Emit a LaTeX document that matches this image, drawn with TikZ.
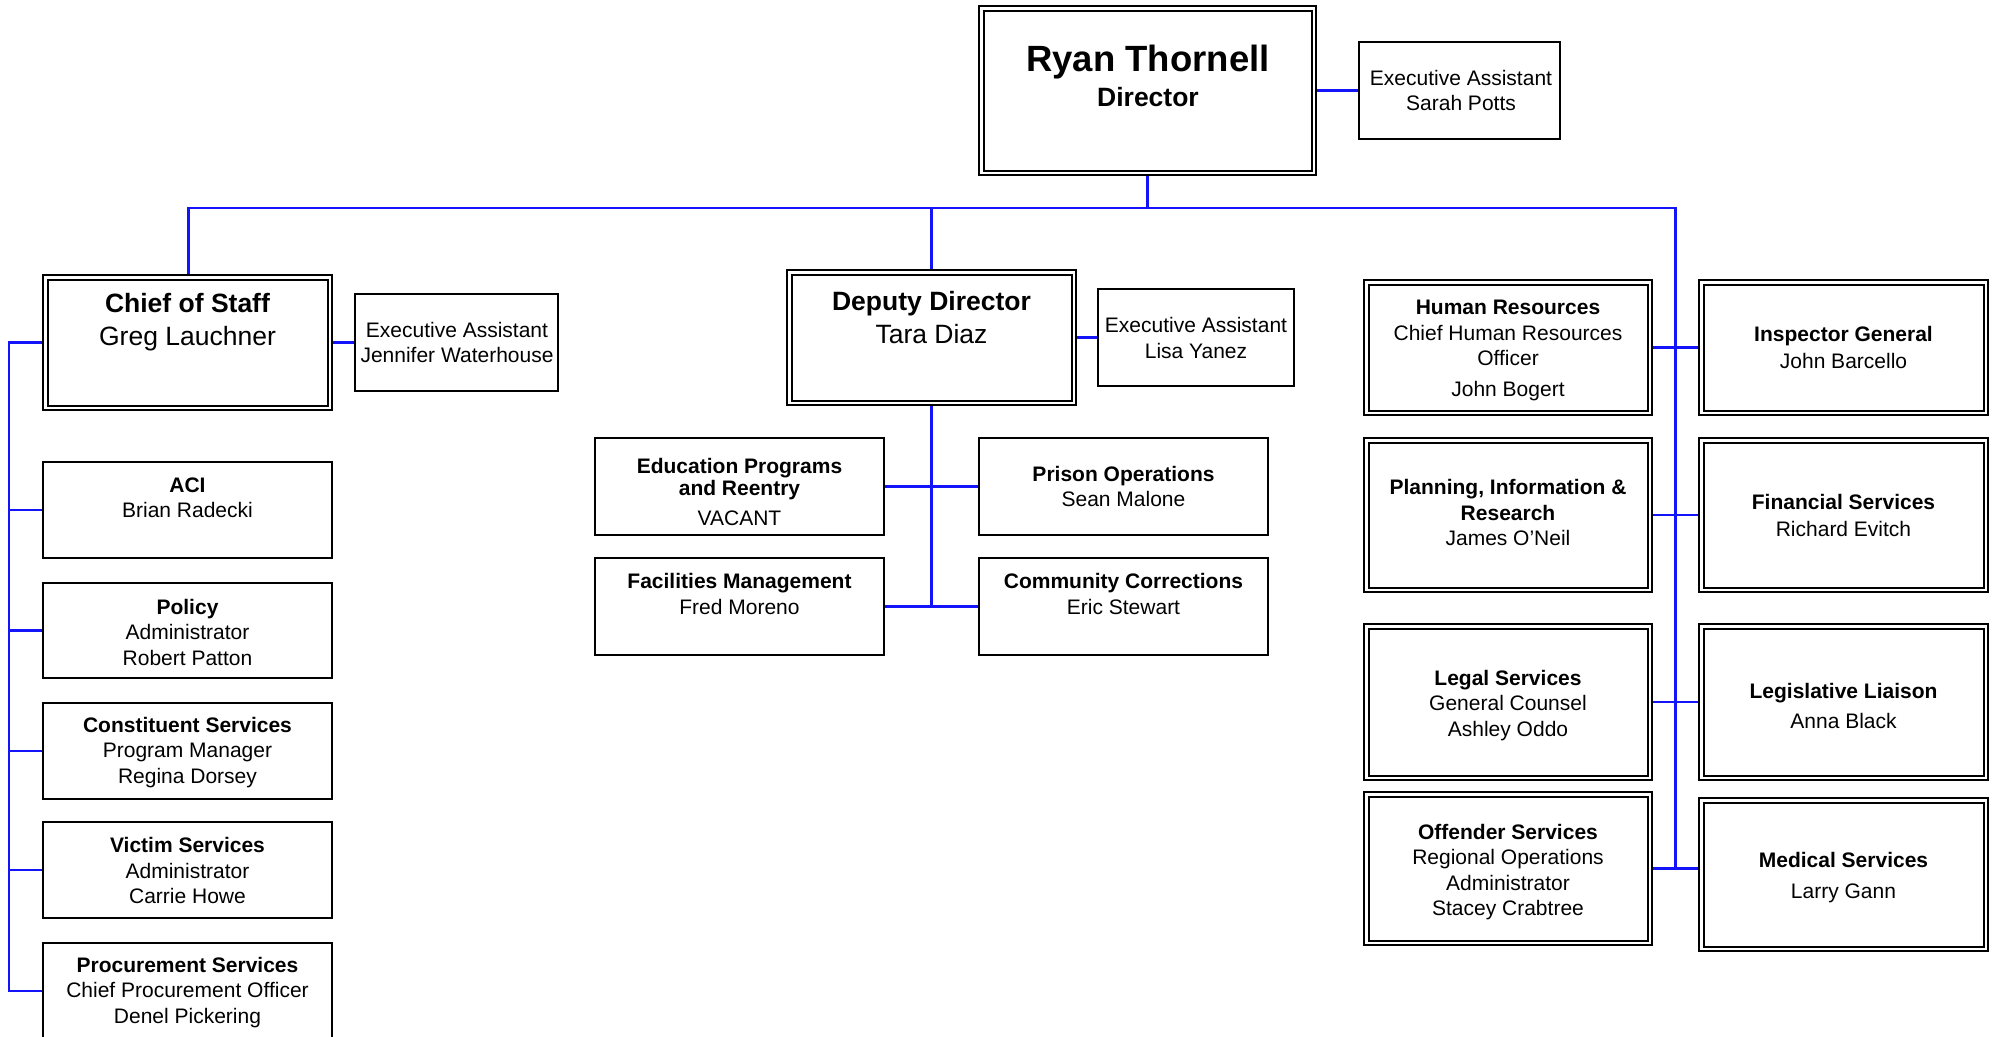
\documentclass[tikz,border=0pt]{standalone}
\usepackage{fontspec}
\setmainfont{Liberation Sans}
\pgfdeclarelayer{background}
\pgfsetlayers{background,main}
\definecolor{lineblue}{RGB}{20,20,250}
\begin{document}
\begin{tikzpicture}[x=1pt,y=-1pt,
  sbox/.style={draw=black, line width=2pt, fill=white, inner sep=0pt},
  dbox/.style={draw=black, line width=2pt, double=white, double distance=2.5pt, fill=white, inner sep=0pt},
  conn/.style={draw=lineblue, line width=2.5pt},
  tx/.style={font=\fontsize{21}{25.5}\selectfont, align=center, inner sep=0pt},
  txb/.style={font=\fontsize{26.5}{33}\selectfont, align=center, inner sep=0pt}]
\useasboundingbox (0,0) rectangle (1997,1036);

% top
\node[dbox, minimum width=332.5pt, minimum height=164.5pt] (dir) at (1147.5,90.5) {};
\node[anchor=base, inner sep=0pt, font=\fontsize{36.5}{40}\selectfont\bfseries] (tdir1) at (1148,71) {Ryan Thornell};
\node[anchor=base, inner sep=0pt, font=\fontsize{26.5}{30}\selectfont\bfseries] (tdir2) at (1148,106) {Director};
\node[sbox, minimum width=201pt, minimum height=97pt] (sarah) at (1459.5,90.5) {};
\node[tx] (tsarah) at (1461,90.5) {Executive Assistant\\Sarah Potts};

% chief of staff
\node[dbox, minimum width=284.5pt, minimum height=130.5pt] (cos) at (187.5,342.5) {};
\node[txb] (tcos) at (187.5,322.5) {\textbf{Chief of Staff}\\Greg Lauchner};
\node[sbox, minimum width=203pt, minimum height=97pt] (jen) at (456.5,342.5) {};
\node[tx] (tjen) at (457,342.5) {Executive Assistant\\Jennifer Waterhouse};

% deputy
\node[dbox, minimum width=284.5pt, minimum height=130.5pt] (dep) at (931.5,337.5) {};
\node[txb] (tdep) at (931.5,317.5) {\textbf{Deputy Director}\\Tara Diaz};
\node[sbox, minimum width=196pt, minimum height=97pt] (lisa) at (1196,337.5) {};
\node[tx] (tlisa) at (1196,338) {Executive Assistant\\Lisa Yanez};

\node[sbox, minimum width=289pt, minimum height=97pt] (edu) at (739.5,486.5) {};
\node[tx] (tedu) at (739.5,492) {\textbf{Education Programs}\\[-4pt]\textbf{and Reentry}\\[5pt]VACANT};
\node[sbox, minimum width=289pt, minimum height=97pt] (pri) at (1123.5,486.5) {};
\node[tx] (tpri) at (1123.5,486.5) {\textbf{Prison Operations}\\Sean Malone};
\node[sbox, minimum width=289pt, minimum height=97pt] (fac) at (739.5,606.5) {};
\node[tx] (tfac) at (739.5,594) {\textbf{Facilities Management}\\[1pt]Fred Moreno};
\node[sbox, minimum width=289pt, minimum height=97pt] (com) at (1123.5,606.5) {};
\node[tx] (tcom) at (1123.5,594) {\textbf{Community Corrections}\\[1pt]Eric Stewart};

% left column
\node[sbox, minimum width=289pt, minimum height=96pt] (aci) at (187.5,510) {};
\node[tx] (taci) at (187.5,498) {\textbf{ACI}\\[-1pt]Brian Radecki};
\node[sbox, minimum width=289pt, minimum height=95pt] (pol) at (187.5,630.5) {};
\node[tx] (tpol) at (187.5,632) {\textbf{Policy}\\Administrator\\Robert Patton};
\node[sbox, minimum width=289pt, minimum height=96pt] (con) at (187.5,751) {};
\node[tx] (tcon) at (187.5,752.5) {\textbf{Constituent Services}\\Program Manager\\Regina Dorsey};
\node[sbox, minimum width=289pt, minimum height=96pt] (vic) at (187.5,870) {};
\node[tx] (tvic) at (187.5,870.5) {\textbf{Victim Services}\\Administrator\\Carrie Howe};
\node[sbox, minimum width=289pt, minimum height=96pt] (pro) at (187.5,991) {};
\node[tx] (tpro) at (187.5,992.5) {\textbf{Procurement Services}\\Chief Procurement Officer\\Denel Pickering};

% right columns
\node[dbox, minimum width=283.5pt, minimum height=130.5pt] (hr) at (1508,347.5) {};
\node[tx] (thr) at (1508,350.5) {\textbf{Human Resources}\\Chief Human Resources\\Officer\\[5pt]John Bogert};
\node[dbox, minimum width=284.5pt, minimum height=130.5pt] (ig) at (1843.5,347.5) {};
\node[tx] (tig) at (1843.5,347.5) {\textbf{Inspector General}\\[1.5pt]John Barcello};
\node[dbox, minimum width=283.5pt, minimum height=149.5pt] (pla) at (1508,515) {};
\node[tx] (tpla) at (1508,512.5) {\textbf{Planning, Information \&}\\\textbf{Research}\\James O’Neil};
\node[dbox, minimum width=284.5pt, minimum height=149.5pt] (fin) at (1843.5,515) {};
\node[tx] (tfin) at (1843.5,515.5) {\textbf{Financial Services}\\[1.5pt]Richard Evitch};
\node[dbox, minimum width=283.5pt, minimum height=151.5pt] (leg) at (1508,702) {};
\node[tx] (tleg) at (1508,705.5) {\textbf{Legal Services}\\General Counsel\\Ashley Oddo};
\node[dbox, minimum width=284.5pt, minimum height=151.5pt] (lli) at (1843.5,702) {};
\node[tx] (tlli) at (1843.5,706) {\textbf{Legislative Liaison}\\[4.5pt]Anna Black};
\node[dbox, minimum width=283.5pt, minimum height=148.5pt] (off) at (1508,868.5) {};
\node[tx] (toff) at (1508,872) {\textbf{Offender Services}\\Regional Operations\\Administrator\\Stacey Crabtree};
\node[dbox, minimum width=284.5pt, minimum height=148.5pt] (med) at (1843.5,874.5) {};
\node[tx] (tmed) at (1843.5,877.5) {\textbf{Medical Services}\\[5pt]Larry Gann};

\begin{pgfonlayer}{background}
\fill[white] (0,0) rectangle (1997,1036);
\coordinate (busL) at (188.5,208);
\coordinate (busR) at (1675.5,208);
\coordinate (lt) at (9,342.5);
\draw[conn] (cos.north -| busL) -- (busL) -- (busR) -- (busR |- off.east);
\draw[conn] (dir.south) -- (dir.south |- busL);
\draw[conn] (dep.north) -- (dep.north |- busL);
\draw[conn] (dir.east) -- (sarah.west);
\draw[conn] (cos.east) -- (jen.west);
\draw[conn] (dep.east) -- (lisa.west);
% left trunk
\draw[conn] (cos.west) -- (lt) -- (lt |- pro.west) -- (pro.west);
\draw[conn] (lt |- aci.west) -- (aci.west);
\draw[conn] (lt |- pol.west) -- (pol.west);
\draw[conn] (lt |- con.west) -- (con.west);
\draw[conn] (lt |- vic.west) -- (vic.west);
% deputy branch
\draw[conn] (dep.south) -- (dep.south |- fac.east);
\draw[conn] (edu.east) -- (pri.west);
\draw[conn] (fac.east) -- (com.west);
% right branch
\draw[conn] (hr.east) -- (ig.west);
\draw[conn] (pla.east) -- (fin.west);
\draw[conn] (leg.east) -- (lli.west);
\draw[conn] (off.east) -- (med.west |- off.east);
\end{pgfonlayer}
\end{tikzpicture}
\end{document}
